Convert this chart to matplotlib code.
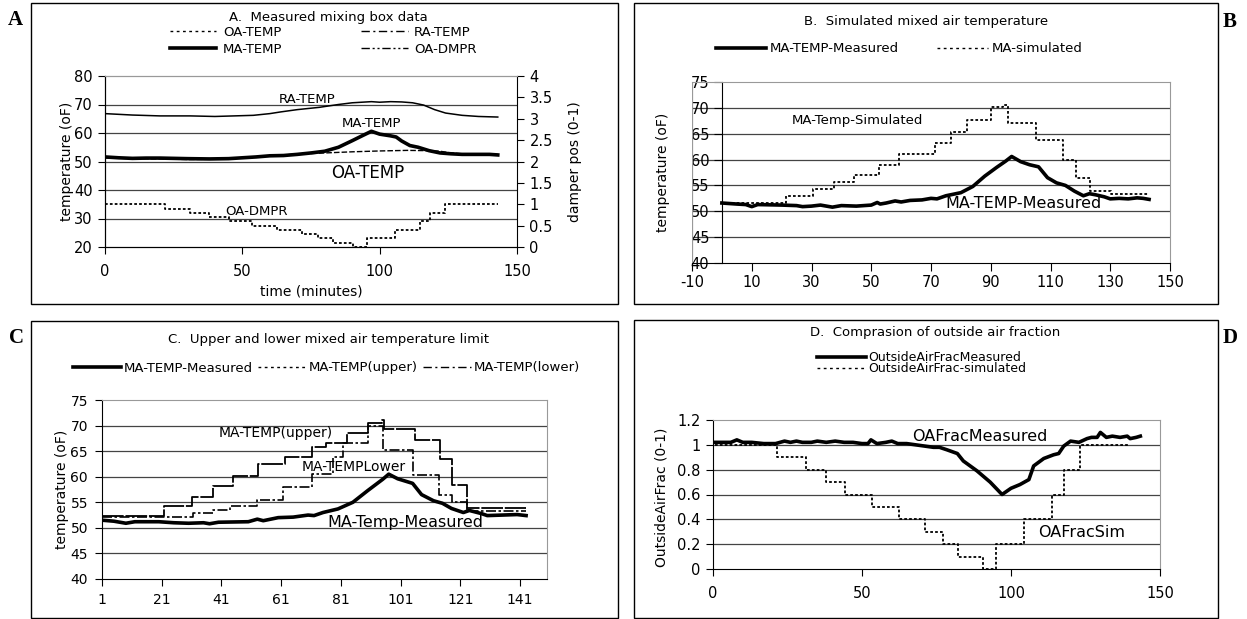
import numpy as np
import matplotlib
matplotlib.use("Agg")
import matplotlib.pyplot as plt
from matplotlib.lines import Line2D
from matplotlib.patches import Rectangle

W, H = 1247, 619

# --------------------------------------------------
# DATA
# --------------------------------------------------
# A. measured mixing box data (time in minutes)
a_ra_t = [0, 10, 20, 31, 40, 54, 60, 64, 70, 78, 85, 90, 97, 100, 104, 108, 112, 116, 120, 124, 130, 136, 143]
a_ra_v = [66.8, 66.3, 66.0, 66.0, 65.8, 66.2, 66.8, 67.4, 68.2, 69.0, 70.0, 70.6, 71.0, 70.8, 71.0, 70.9,
          70.6, 69.8, 68.2, 67.0, 66.2, 65.8, 65.6]

a_ma_t = [0, 5, 10, 15, 20, 30, 38, 45, 50, 55, 60, 65, 70, 75, 80, 85, 90, 94, 97, 100, 104, 106,
          108, 111, 114, 118, 122, 126, 130, 135, 140, 143]
a_ma_v = [51.6, 51.3, 51.1, 51.2, 51.2, 51.0, 50.9, 51.0, 51.3, 51.6, 52.0, 52.1, 52.5, 53.0, 53.6, 55.0,
          57.3, 59.2, 60.6, 59.6, 59.0, 58.6, 57.2, 55.6, 55.0, 53.8, 53.0, 52.7, 52.5, 52.5, 52.5, 52.3]

a_oa_t = [0, 10, 20, 30, 40, 50, 60, 70, 80, 90, 100, 110, 118, 122, 126, 130, 136, 143]
a_oa_v = [51.3, 51.0, 50.9, 50.7, 50.8, 51.2, 52.0, 52.6, 53.0, 53.4, 53.7, 53.9, 53.8, 53.6, 53.0,
          52.7, 52.6, 52.5]

a_dmpr_t = [0, 21.8, 31, 38, 45, 53.5, 62.5, 71.7, 77.5, 83, 90.3, 95.4, 105.6, 114.7, 118.3, 123.8, 143]
a_dmpr_v = [1.0, 0.9, 0.8, 0.7, 0.6, 0.5, 0.4, 0.3, 0.2, 0.1, 0.0, 0.2, 0.4, 0.6, 0.8, 1.0, 1.0]

# B. simulated mixed air temperature
b_meas_t = [0, 5, 8, 10, 12, 20, 25, 27, 30, 33, 37, 40, 45, 50, 52, 53, 55, 58, 60, 63, 67, 70, 72,
            75, 80, 84, 88, 92, 95, 97, 100, 103, 106, 109, 112, 115, 118, 121, 123, 125, 128, 130,
            133, 136, 139, 141, 143]
b_meas_v = [51.6, 51.4, 51.3, 50.9, 51.3, 51.2, 51.1, 50.9, 51.0, 51.2, 50.8, 51.1, 51.0, 51.2, 51.7,
            51.4, 51.6, 52.0, 51.8, 52.1, 52.2, 52.5, 52.4, 53.0, 53.6, 54.8, 56.8, 58.5, 59.7, 60.6,
            59.6, 59.0, 58.6, 56.5, 55.5, 55.0, 53.9, 53.0, 53.4, 53.2, 52.8, 52.4, 52.5, 52.4, 52.6,
            52.5, 52.3]
b_sim_t = [0, 21.4, 30.6, 37.6, 44.1, 52.6, 59.2, 71.2, 76.8, 82.1, 90.2, 94.1, 95.8, 105.2, 114.1,
           118.6, 123.3, 130.3, 142.6]
b_sim_v = [51.6, 53.0, 54.3, 55.7, 57.1, 59.0, 61.0, 63.3, 65.3, 67.6, 70.2, 70.6, 67.1, 63.8, 60.0,
           56.4, 53.9, 53.3, 53.3]

# C. upper and lower limits (sample index)
c_meas_t = [1, 5, 9, 12, 20, 25, 30, 35, 37, 40, 50, 53, 55, 60, 65, 70, 72, 75, 80, 85, 90, 95, 97,
            100, 105, 108, 112, 115, 118, 122, 124, 128, 130, 135, 140, 143]
c_meas_v = [51.5, 51.3, 50.9, 51.2, 51.2, 51.0, 50.9, 51.0, 50.8, 51.1, 51.2, 51.7, 51.4, 52.0, 52.1,
            52.5, 52.4, 53.0, 53.7, 55.0, 57.3, 59.5, 60.5, 59.6, 58.7, 56.5, 55.3, 54.8, 53.8, 53.0,
            53.4, 52.8, 52.4, 52.5, 52.6, 52.4]
c_up_t = [1, 21.8, 31, 38.2, 44.8, 53.3, 62.3, 71.2, 76, 83, 90, 94.7, 95.3, 105.8, 114.3, 118.2, 123.2, 143]
c_up_v = [52.3, 54.3, 56.1, 58.2, 60.2, 62.5, 63.8, 65.8, 66.6, 68.6, 70.5, 71.0, 69.4, 67.2, 63.4,
          58.3, 53.8, 53.8]
c_lo_t = [1, 31.4, 38.2, 44, 52.8, 61.7, 71.2, 78.4, 81.7, 90, 95, 105, 114, 118.2, 123.2, 143]
c_lo_v = [52.1, 52.9, 53.5, 54.2, 55.4, 57.9, 60.5, 63.8, 66.5, 70.0, 65.2, 60.3, 56.5, 55.0, 53.2, 53.2]

# D. outside air fraction
d_meas_t = [0, 3, 6, 8, 10, 13, 17, 21, 24, 26, 28, 30, 33, 35, 38, 41, 44, 47, 50, 52, 53, 55, 58,
            60, 62, 65, 68, 71, 74, 76, 78.5, 82, 84, 88.6, 93, 97, 100, 103, 106, 107.6, 111, 114.3,
            116, 117.7, 120, 122.8, 125.5, 127, 128.9, 130, 132, 134, 136.6, 139, 140, 142, 143.4]
d_meas_v = [1.02, 1.02, 1.02, 1.04, 1.02, 1.02, 1.01, 1.01, 1.03, 1.02, 1.03, 1.02, 1.02, 1.03, 1.02,
            1.03, 1.02, 1.02, 1.01, 1.01, 1.04, 1.01, 1.02, 1.03, 1.01, 1.01, 1.00, 0.99, 0.98, 0.98,
            0.96, 0.93, 0.87, 0.79, 0.70, 0.60, 0.65, 0.68, 0.72, 0.83, 0.89, 0.92, 0.93, 0.99, 1.03,
            1.02, 1.05, 1.06, 1.06, 1.10, 1.06, 1.07, 1.06, 1.07, 1.05, 1.06, 1.07]
d_sim_t = [0.6, 21.6, 31.2, 37.9, 44.3, 53.2, 62.5, 71.1, 77.3, 82.3, 90.5, 94.8, 104.5, 113.8,
           117.9, 123, 139.5]
d_sim_v = [1.0, 0.9, 0.8, 0.7, 0.6, 0.5, 0.4, 0.3, 0.2, 0.1, 0.0, 0.2, 0.4, 0.6, 0.8, 1.0, 1.0]

# --------------------------------------------------
# STYLE
# --------------------------------------------------
plt.rcParams['font.family'] = 'DejaVu Sans'
plt.rcParams['axes.unicode_minus'] = False
THICK = 2.6
GRID = '#444444'
BORDER = '#999999'
DOT = (0, (1.5, 1.2))
LEG_DOT = (0, (2, 2.5))
LEG_DASHDOT = (0, (6, 2.5, 1.5, 2.5))
LEG_DASHDOTDOT = (0, (6, 2, 1.5, 2, 1.5, 2))
LEG_FS = 9.5


def fx(x):
    return x / W


def fy(y):
    return 1 - y / H


def axes_box(l, t, r, b):
    return [fx(l), fy(b), (r - l) / W, (b - t) / H]


fig = plt.figure(figsize=(W / 100, H / 100), dpi=100)

# panel frames
for (l, t, r, b) in [(31, 3, 618, 304), (634, 3, 1218, 304), (31, 321, 618, 618), (634, 320, 1218, 618)]:
    fig.add_artist(Rectangle((fx(l), fy(b)), (r - l) / W, (b - t) / H, transform=fig.transFigure,
                             fill=False, edgecolor='black', lw=1.0))

for s, (x, y) in zip("ABCD", [(15, 20), (1230, 22), (17, 338), (1230, 338)]):
    fig.text(fx(x), fy(y), s, family='Liberation Serif', fontweight='bold', fontsize=15,
             ha='center', va='center')


def hgrid(ax, vals):
    for v in vals:
        ax.axhline(v, color=GRID, lw=0.9, zorder=1)


# ==========================================================
# A
# ==========================================================
ax_a = fig.add_axes(axes_box(105, 76, 517, 247))
ax_a.set_xlim(0, 150)
ax_a.set_ylim(20, 80)
hgrid(ax_a, [30, 40, 50, 60, 70])
ax_a.plot(a_ra_t, a_ra_v, color='black', lw=1.1, zorder=3)
ax_a.plot(a_oa_t, a_oa_v, color='black', lw=1.0, ls=(0, (4, 1.5)), zorder=3)
ax_a.plot(a_ma_t, a_ma_v, color='black', lw=THICK, zorder=4)
ax_a.set_xticks([0, 50, 100, 150])
ax_a.set_yticks(range(20, 81, 10))
ax_a.tick_params(direction='out', length=5, labelsize=10.5, pad=4)
ax_a.tick_params(axis='x', pad=7)
ax_a.spines['top'].set_color(BORDER)
ax_a.spines['right'].set_visible(False)
ax_a.set_ylabel('temperature (oF)', fontsize=10)
ax_a.yaxis.set_label_coords(-0.075, 0.5)
ax_a.set_xlabel('time (minutes)', fontsize=10)
ax_a.xaxis.set_label_coords(0.5, -0.22)

ax_a2 = ax_a.twinx()
ax_a2.set_ylim(0, 4)
ax_a2.plot(a_dmpr_t, a_dmpr_v, color='black', lw=1.3, ls=DOT, drawstyle='steps-post', zorder=3)
ax_a2.set_yticks(np.arange(0, 4.01, 0.5))
ax_a2.set_yticklabels(['0', '0.5', '1', '1.5', '2', '2.5', '3', '3.5', '4'])
ax_a2.tick_params(direction='out', length=5, labelsize=10.5, pad=4)
ax_a2.spines['top'].set_color(BORDER)
ax_a2.set_ylabel('damper pos (0-1)', fontsize=10, rotation=90)
ax_a2.yaxis.set_label_coords(1.125, 0.5)

ax_a.text(73.5, 71.6, 'RA-TEMP', fontsize=9.5, ha='center', va='center')
ax_a.text(97.2, 63.2, 'MA-TEMP', fontsize=9.5, ha='center', va='center')
ax_a.text(95.7, 46.0, 'OA-TEMP', fontsize=12, ha='center', va='center')
ax_a.text(55, 32.6, 'OA-DMPR', fontsize=9.5, ha='center', va='center')

fig.text(fx(328), fy(17), 'A.  Measured mixing box data', fontsize=9.5, ha='center', va='center')
h_a = [Line2D([], [], color='black', lw=1.0, ls=LEG_DOT),
       Line2D([], [], color='black', lw=THICK),
       Line2D([], [], color='black', lw=1.0, ls=LEG_DASHDOT),
       Line2D([], [], color='black', lw=1.0, ls=LEG_DASHDOTDOT)]
fig.legend(h_a, ['OA-TEMP', 'MA-TEMP', 'RA-TEMP', 'OA-DMPR'], ncol=2, loc='upper left',
           bbox_to_anchor=(fx(170), fy(26)), frameon=False, fontsize=LEG_FS, handlelength=3.5,
           handletextpad=0.5, columnspacing=6.0, labelspacing=0.3, borderpad=0, borderaxespad=0)

# ==========================================================
# B
# ==========================================================
ax_b = fig.add_axes(axes_box(692, 82, 1170, 263))
ax_b.set_xlim(-10, 150)
ax_b.set_ylim(40, 75)
hgrid(ax_b, [45, 50, 55, 60, 65, 70])
ax_b.plot(b_sim_t, b_sim_v, color='black', lw=1.3, ls=DOT, drawstyle='steps-post', zorder=3)
ax_b.plot(b_meas_t, b_meas_v, color='black', lw=THICK, zorder=4)
ax_b.spines['left'].set_position(('data', 0))
ax_b.spines['top'].set_color(BORDER)
ax_b.spines['right'].set_color(BORDER)
ax_b.axvline(-10, color=BORDER, lw=0.9)
ax_b.set_xticks(range(-10, 151, 20))
ax_b.set_yticks(range(40, 76, 5))
ax_b.tick_params(direction='out', length=6, labelsize=10.5, pad=3)
ax_b.set_ylabel('temperature (oF)', fontsize=10)
ax_b.yaxis.set_label_coords(-0.045, 0.5)
ax_b.text(45.5, 67.5, 'MA-Temp-Simulated', fontsize=9.5, ha='center', va='center')
ax_b.text(101, 51.6, 'MA-TEMP-Measured', fontsize=11.5, ha='center', va='center')

fig.text(fx(926), fy(22), 'B.  Simulated mixed air temperature', fontsize=9.5, ha='center', va='center')
h_b = [Line2D([], [], color='black', lw=THICK), Line2D([], [], color='black', lw=1.0, ls=LEG_DOT)]
fig.legend(h_b, ['MA-TEMP-Measured', 'MA-simulated'], ncol=2, loc='center left',
           bbox_to_anchor=(fx(716), fy(49)), frameon=False, fontsize=LEG_FS, handlelength=3.8,
           handletextpad=0.3, columnspacing=2.9, borderpad=0, borderaxespad=0)

# ==========================================================
# C
# ==========================================================
ax_c = fig.add_axes(axes_box(102, 400, 547, 579))
ax_c.set_xlim(1, 150)
ax_c.set_ylim(40, 75)
hgrid(ax_c, [45, 50, 55, 60, 65, 70])
ax_c.plot(c_up_t, c_up_v, color='black', lw=1.3, ls=(0, (12, 1)), drawstyle='steps-post', zorder=3)
ax_c.plot(c_lo_t, c_lo_v, color='black', lw=1.2, ls=(0, (6, 1.5, 1.5, 1.5)), drawstyle='steps-post', zorder=3)
ax_c.plot(c_meas_t, c_meas_v, color='black', lw=THICK, zorder=4)
ax_c.spines['top'].set_color(BORDER)
ax_c.spines['right'].set_color(BORDER)
ax_c.set_xticks(range(1, 142, 20))
ax_c.set_yticks(range(40, 76, 5))
ax_c.tick_params(direction='out', length=5, labelsize=10, pad=5)
ax_c.set_ylabel('temperature (oF)', fontsize=10)
ax_c.yaxis.set_label_coords(-0.075, 0.5)
ax_c.text(59.3, 68.5, 'MA-TEMP(upper)', fontsize=10, ha='center', va='center')
ax_c.text(85.4, 61.9, 'MA-TEMPLower', fontsize=10, ha='center', va='center')
ax_c.text(102.5, 51.1, 'MA-Temp-Measured', fontsize=11.5, ha='center', va='center')

fig.text(fx(328), fy(339), 'C.  Upper and lower mixed air temperature limit', fontsize=9.5,
         ha='center', va='center')
h_c = [Line2D([], [], color='black', lw=THICK),
       Line2D([], [], color='black', lw=1.0, ls=LEG_DOT),
       Line2D([], [], color='black', lw=1.0, ls=LEG_DASHDOT)]
fig.legend(h_c, ['MA-TEMP-Measured', 'MA-TEMP(upper)', 'MA-TEMP(lower)'], ncol=3, loc='center left',
           bbox_to_anchor=(fx(73), fy(368)), frameon=False, fontsize=LEG_FS, handlelength=3.6,
           handletextpad=0.25, columnspacing=0.4, borderpad=0, borderaxespad=0)

# ==========================================================
# D
# ==========================================================
ax_d = fig.add_axes(axes_box(713, 420, 1160, 569))
ax_d.set_xlim(0, 150)
ax_d.set_ylim(0, 1.2)
hgrid(ax_d, [0.2, 0.4, 0.6, 0.8, 1.0])
ax_d.plot(d_sim_t, d_sim_v, color='black', lw=1.3, ls=DOT, drawstyle='steps-post', zorder=3, clip_on=False)
ax_d.plot(d_meas_t, d_meas_v, color='black', lw=THICK, zorder=4)
ax_d.spines['top'].set_color(BORDER)
ax_d.spines['right'].set_color(BORDER)
ax_d.set_xticks([0, 50, 100, 150])
ax_d.set_yticks(np.arange(0, 1.21, 0.2))
ax_d.set_yticklabels(['0', '0.2', '0.4', '0.6', '0.8', '1', '1.2'])
ax_d.tick_params(direction='out', length=5, labelsize=10.5, pad=4)
ax_d.tick_params(axis='x', pad=7)
ax_d.set_ylabel('OutsideAirFrac (0-1)', fontsize=10)
ax_d.yaxis.set_label_coords(-0.1, 0.48)
ax_d.text(89.6, 1.071, 'OAFracMeasured', fontsize=11.5, ha='center', va='center')
ax_d.text(123.8, 0.29, 'OAFracSim', fontsize=11.5, ha='center', va='center')

fig.text(fx(935), fy(333), 'D.  Comprasion of outside air fraction', fontsize=9.5, ha='center', va='center')
h_d = [Line2D([], [], color='black', lw=THICK), Line2D([], [], color='black', lw=1.0, ls=LEG_DOT)]
fig.legend(h_d, ['OutsideAirFracMeasured', 'OutsideAirFrac-simulated'], ncol=1, loc='center left',
           bbox_to_anchor=(fx(817), fy(363)), frameon=False, fontsize=9, handlelength=3.9,
           handletextpad=0.2, labelspacing=-0.15, borderpad=0, borderaxespad=0)

fig.savefig('out.png', dpi=100)
